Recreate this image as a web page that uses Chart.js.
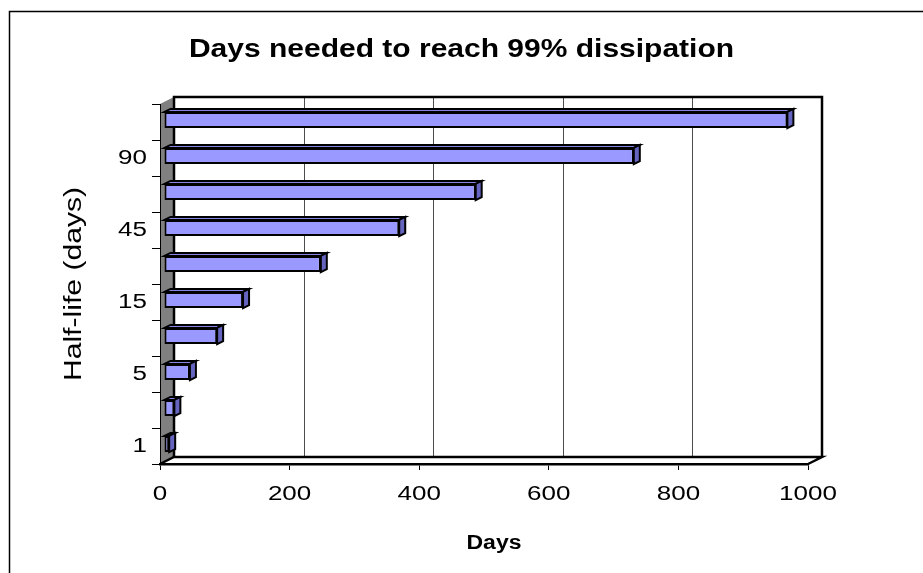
<!DOCTYPE html>
<html>
<head>
<meta charset="utf-8">
<title>Days needed to reach 99% dissipation</title>
<script src="https://cdn.jsdelivr.net/npm/chart.js@4.4.1/dist/chart.umd.min.js"></script>
<style>
  html, body { margin: 0; padding: 0; background: #ffffff; }
  #wrap { width: 923px; height: 573px; }
  canvas { display: block; }
</style>
</head>
<body>
<div id="wrap"><canvas id="chart" width="923" height="573"></canvas></div>
<script>
// Half-life categories (days), bottom to top
const halfLives = ['1', '2', '5', '10', '15', '30', '45', '60', '90', '120'];
// Days needed to reach 99% dissipation for each half-life
const daysTo99 = [8, 16, 40, 82, 122, 242, 363, 481, 725, 962];
// Value axis ticks (days)
const dayTicks = [0, 200, 400, 600, 800, 1000];
// Category labels printed on the axis (every other one)
const shownHalfLives = ['1', '5', '15', '45', '90'];

const FONT = '"Liberation Sans", Arial, sans-serif';
const DEPTH = { dx: 14, dy: -7 };      // wall / floor depth offset
const BAR_SHIFT = { dx: 4, dy: -2 };   // bar front face sits a little behind the floor edge
const BAR_DEPTH = { dx: 6, dy: -3 };   // depth of each bar

// Wide lettering: horizontal stretch per font (keyed by weight + size);
// the value-axis title is centred on the whole box, walls included.
const TEXT_STYLE = {
  'bold 25': { sx: 1.2, dx: 0 },
  'bold 20': { sx: 1.15, dx: DEPTH.dx / 2 + 3 },
  'normal 20': { sx: 1.3, dx: 0 },
  'normal 23': { sx: 1.31, dx: 0 }
};
function styleFor(font) {
  const m = /(\d+(?:\.\d+)?)px/.exec(font);
  if (!m) return { sx: 1, dx: 0 };
  const key = (/bold/.test(font) ? 'bold ' : 'normal ') + Math.round(parseFloat(m[1]));
  return TEXT_STYLE[key] || { sx: 1, dx: 0 };
}

const wideTextPlugin = {
  id: 'wideText',
  afterInit(chart) {
    const ctx = chart.ctx;
    const baseFill = ctx.fillText;
    ctx.fillText = function (text, x, y, maxWidth) {
      const { sx, dx } = styleFor(this.font);
      this.save();
      this.translate(x + dx, y);
      this.scale(sx, 1);
      if (maxWidth === undefined) baseFill.call(this, text, 0, 0);
      else baseFill.call(this, text, 0, 0, maxWidth / sx);
      this.restore();
    };
  }
};

// Back wall, side wall, floor and gridlines drawn behind everything
const wallsPlugin = {
  id: 'walls',
  beforeDraw(chart) {
    const { ctx, chartArea: a, scales } = chart;
    const xs = scales.x;
    const L = a.left, R = a.right, T = a.top, B = a.bottom;
    const bl = L + DEPTH.dx, bt = T + DEPTH.dy, br = R + DEPTH.dx, bb = B + DEPTH.dy;
    ctx.save();
    ctx.fillStyle = '#ffffff';
    ctx.fillRect(0, 0, chart.width, chart.height);

    // outer frame
    ctx.strokeStyle = '#000000';
    ctx.lineWidth = 1.5;
    ctx.strokeRect(9.5, 11.5, 1200, 1200);

    // gridlines on the back wall
    ctx.strokeStyle = '#4d4d4d';
    ctx.lineWidth = 1;
    dayTicks.forEach(v => {
      if (v === dayTicks[0] || v === dayTicks[dayTicks.length - 1]) return;
      const gx = Math.round(xs.getPixelForValue(v) + DEPTH.dx) + 0.5;
      ctx.beginPath();
      ctx.moveTo(gx, bt);
      ctx.lineTo(gx, bb);
      ctx.stroke();
    });

    // grey side wall
    ctx.fillStyle = '#808080';
    ctx.beginPath();
    ctx.moveTo(L, T);
    ctx.lineTo(bl, bt);
    ctx.lineTo(bl, bb);
    ctx.lineTo(L, B);
    ctx.closePath();
    ctx.fill();

    // back wall outline
    ctx.strokeStyle = '#000000';
    ctx.lineWidth = 2.5;
    ctx.beginPath();
    ctx.moveTo(bl, bb);
    ctx.lineTo(bl, bt);
    ctx.lineTo(br, bt);
    ctx.lineTo(br, bb);
    ctx.stroke();

    // floor outline
    ctx.beginPath();
    ctx.moveTo(L, B);
    ctx.lineTo(bl, bb);
    ctx.lineTo(br, bb);
    ctx.lineTo(R, B);
    ctx.stroke();
    ctx.restore();
  }
};

// Bars: shift the front faces, then add top and end faces
const barsPlugin = {
  id: 'bars3d',
  beforeDatasetsDraw(chart) {
    chart.ctx.save();
    chart.ctx.translate(BAR_SHIFT.dx, BAR_SHIFT.dy);
  },
  afterDatasetsDraw(chart) {
    const ctx = chart.ctx;
    const meta = chart.getDatasetMeta(0);
    ctx.lineWidth = 2;
    ctx.strokeStyle = '#000000';
    ctx.lineJoin = 'miter';
    meta.data.forEach(bar => {
      const { x, y, base, height } = bar.getProps(['x', 'y', 'base', 'height'], true);
      const top = y - height / 2, bottom = y + height / 2;
      const l = Math.min(base, x), r = Math.max(base, x);
      // top face
      ctx.fillStyle = '#8585e6';
      ctx.beginPath();
      ctx.moveTo(l, top);
      ctx.lineTo(l + BAR_DEPTH.dx, top + BAR_DEPTH.dy);
      ctx.lineTo(r + BAR_DEPTH.dx, top + BAR_DEPTH.dy);
      ctx.lineTo(r, top);
      ctx.closePath();
      ctx.fill();
      ctx.stroke();
      // end face
      ctx.fillStyle = '#6565c0';
      ctx.beginPath();
      ctx.moveTo(r, top);
      ctx.lineTo(r + BAR_DEPTH.dx, top + BAR_DEPTH.dy);
      ctx.lineTo(r + BAR_DEPTH.dx, bottom + BAR_DEPTH.dy);
      ctx.lineTo(r, bottom);
      ctx.closePath();
      ctx.fill();
      ctx.stroke();
    });
    ctx.restore();
  }
};

new Chart(document.getElementById('chart'), {
  type: 'bar',
  data: {
    labels: halfLives,
    datasets: [{
      label: 'Days',
      data: daysTo99,
      backgroundColor: '#9999ff',
      borderColor: '#000000',
      borderWidth: 2,
      borderSkipped: false,
      categoryPercentage: 1,
      barPercentage: 0.45
    }]
  },
  options: {
    indexAxis: 'y',
    responsive: false,
    animation: false,
    devicePixelRatio: 1,
    layout: { padding: 0 },
    plugins: {
      legend: { display: false },
      tooltip: { enabled: false },
      title: {
        display: true,
        text: 'Days needed to reach 99% dissipation',
        color: '#000000',
        font: { family: FONT, size: 25, weight: 'bold', lineHeight: 1.2 },
        padding: { top: 35, bottom: 39 }
      }
    },
    scales: {
      x: {
        type: 'linear',
        position: 'bottom',
        min: 0,
        max: 1000,
        afterBuildTicks(scale) { scale.ticks = dayTicks.map(v => ({ value: v })); },
        afterFit(scale) { scale.height = 109; },
        grid: { display: true, drawOnChartArea: false, drawTicks: true, tickLength: 6, color: '#000000', lineWidth: 1 },
        border: { display: true, color: '#000000', width: 2.5 },
        ticks: {
          color: '#000000',
          font: { family: FONT, size: 20 },
          padding: 12,
          maxRotation: 0,
          callback: value => String(value)
        },
        title: {
          display: true,
          text: 'Days',
          color: '#000000',
          font: { family: FONT, size: 20, weight: 'bold', lineHeight: 1.2 },
          padding: { top: 0, bottom: 18 }
        }
      },
      y: {
        type: 'category',
        position: 'left',
        reverse: true,
        afterFit(scale) { scale.width = 160; },
        grid: { display: true, drawOnChartArea: false, drawTicks: true, tickLength: 8, color: '#000000', lineWidth: 1, offset: true },
        border: { display: true, color: '#000000', width: 1 },
        ticks: {
          autoSkip: false,
          color: '#000000',
          font: { family: FONT, size: 20 },
          padding: 5,
          callback(value) {
            const label = this.getLabelForValue(value);
            return shownHalfLives.includes(label) ? label : '';
          }
        },
        title: {
          display: true,
          text: 'Half-life (days)',
          color: '#000000',
          font: { family: FONT, size: 23, lineHeight: 1.2 },
          padding: { top: 61, bottom: 0 }
        }
      },
      yEdge: {
        type: 'category',
        position: 'right',
        display: true,
        afterFit(scale) { scale.width = 115; },
        grid: { display: false },
        border: { display: false },
        ticks: { display: false }
      }
    }
  },
  plugins: [wideTextPlugin, wallsPlugin, barsPlugin]
});
</script>
</body>
</html>
